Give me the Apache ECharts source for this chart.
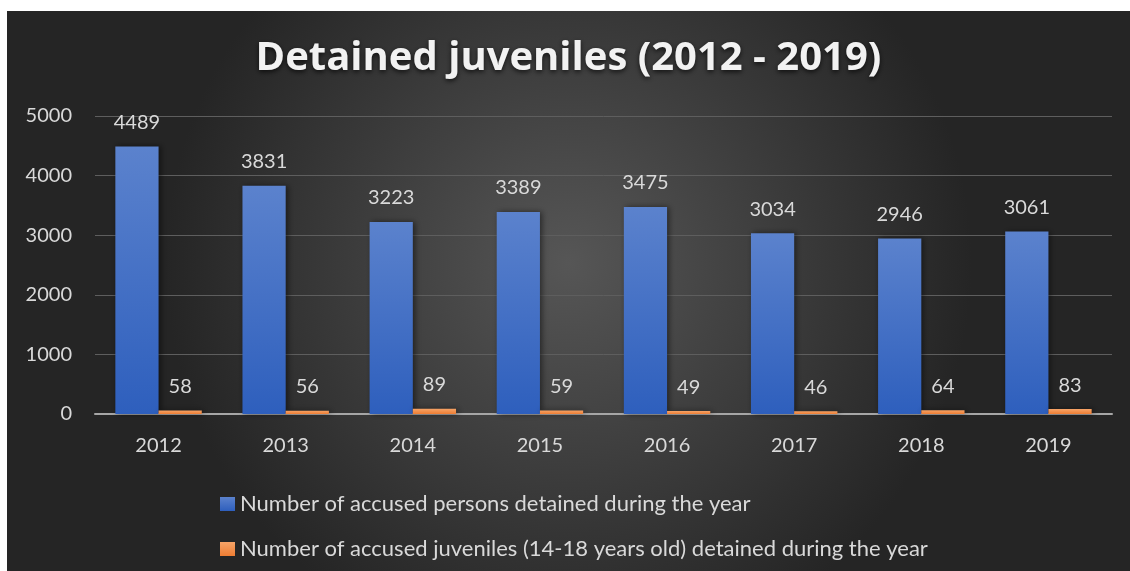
<!DOCTYPE html>
<html>
<head>
<meta charset="utf-8">
<script src="https://cdn.jsdelivr.net/npm/echarts@6/dist/echarts.min.js"></script>
<style>
html,body{margin:0;padding:0;background:#fff;width:1130px;height:571px;overflow:hidden;}
#chart{position:absolute;left:7px;top:11px;width:1123px;height:560px;}
</style>
</head>
<body>
<div id="chart"></div>
<script>
const titleText = 'Detained juveniles (2012 - 2019)';
const categories = ['2012','2013','2014','2015','2016','2017','2018','2019'];
const seriesNames = ['Number of accused persons detained during the year',
  'Number of accused juveniles (14-18 years old) detained during the year'];
const personsDetained = [4489, 3831, 3223, 3389, 3475, 3034, 2946, 3061];
const juvenilesDetained = [58, 56, 89, 59, 49, 46, 64, 83];
const yTicks = [0, 1000, 2000, 3000, 4000, 5000];

const FONT = 'Lato, "Open Sans", sans-serif';
const chart = echarts.init(document.getElementById('chart'));
const labelStyle = {show:true, position:'top', distance:14, color:'#d9d9d9', fontSize:20, fontFamily:FONT};
chart.setOption({
  backgroundColor: new echarts.graphic.RadialGradient(0.5, 0.45, 0.72, [
    {offset:0, color:'#565656'},
    {offset:1, color:'#252525'}
  ]),
  title: {
    text: titleText, left:'center', top:23,
    textStyle:{color:'#f2f2f2', fontSize:40, fontWeight:'bold', fontFamily:'"Open Sans", Lato, sans-serif',
      textShadowColor:'rgba(0,0,0,0.7)', textShadowBlur:5, textShadowOffsetY:2}
  },
  grid: {left:88, right:18, top:105, bottom:157, containLabel:false},
  legend: {
    orient:'vertical', left:208, top:476, itemGap:21, itemWidth:15, itemHeight:14,
    icon:'rect',
    textStyle:{color:'#d9d9d9', fontSize:22, fontFamily:FONT, lineHeight:24},
    data: seriesNames
  },
  xAxis: {
    type:'category', data:categories,
    axisLine:{lineStyle:{color:'#a6a6a6', width:2}},
    axisTick:{show:false},
    axisLabel:{color:'#d9d9d9', fontSize:20, fontFamily:FONT, margin:22}
  },
  yAxis: {
    type:'value', min:yTicks[0], max:yTicks[yTicks.length-1], interval:1000,
    axisLine:{show:false}, axisTick:{show:false},
    splitLine:{lineStyle:{color:'#5e5e5e', width:1}},
    axisLabel:{color:'#d9d9d9', fontSize:20, fontFamily:FONT, margin:23,
      formatter: v => String(v)}
  },
  series: [
    {
      name: seriesNames[0], type:'bar', data: personsDetained,
      barGap:'0%', barCategoryGap:'32%',
      itemStyle:{
        color: new echarts.graphic.LinearGradient(0,0,0,1,[
          {offset:0, color:'#5b82cd'},
          {offset:1, color:'#2e5fbd'}
        ]),
        shadowColor:'rgba(0,0,0,0.5)', shadowBlur:6, shadowOffsetX:2
      },
      label: labelStyle
    },
    {
      name: seriesNames[1], type:'bar', data: juvenilesDetained,
      itemStyle:{
        color: new echarts.graphic.LinearGradient(0,0,0,1,[
          {offset:0, color:'#f6a468'},
          {offset:1, color:'#ee7d33'}
        ]),
        shadowColor:'rgba(0,0,0,0.5)', shadowBlur:6, shadowOffsetX:2
      },
      label: labelStyle
    }
  ]
});
</script>
</body>
</html>
